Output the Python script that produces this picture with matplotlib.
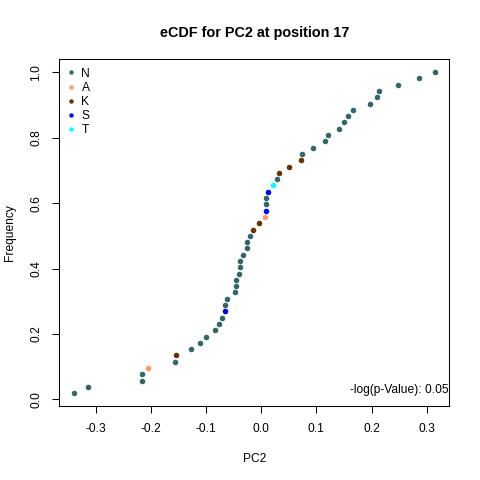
import numpy as np
import matplotlib
matplotlib.use("Agg")
import matplotlib.pyplot as plt

plt.rcParams['font.family'] = ['Liberation Sans', 'DejaVu Sans']
plt.rcParams['axes.unicode_minus'] = False

# PC2 values at position 17, with the residue of each sample
pc2 = [-0.340, -0.315, -0.217, -0.217, -0.206, -0.157, -0.154, -0.127,
       -0.112, -0.0995, -0.083, -0.076, -0.0705, -0.065, -0.065, -0.063,
       -0.047, -0.045, -0.045, -0.040, -0.038, -0.038, -0.033, -0.025,
       -0.025, -0.020, -0.0145, -0.0036, 0.0072, 0.009, 0.0092, 0.0094,
       0.0127, 0.0217, 0.029, 0.0325, 0.0506, 0.0723, 0.0741, 0.094,
       0.1157, 0.121, 0.141, 0.150, 0.157, 0.1664, 0.197, 0.2098,
       0.2134, 0.2477, 0.2857, 0.3147]
residue = ['N', 'N', 'N', 'N', 'A', 'N', 'K', 'N',
           'N', 'N', 'N', 'N', 'N', 'S', 'N', 'N',
           'N', 'N', 'N', 'N', 'N', 'N', 'N', 'N',
           'N', 'N', 'K', 'K', 'A', 'S', 'N', 'N',
           'S', 'T', 'N', 'K', 'K', 'K', 'N', 'N',
           'N', 'N', 'N', 'N', 'N', 'N', 'N', 'N',
           'N', 'N', 'N', 'N']
groups = ['N', 'A', 'K', 'S', 'T']
group_colors = ['#336666', '#FF9966', '#663300', '#0000FF', '#00FFFF']
p_value_text = "-log(p-Value): 0.05"

x = np.array(pc2)
order = np.argsort(x, kind='stable')
x = x[order]
res = np.array(residue)[order]
freq = np.arange(1, len(x) + 1) / len(x)

fig = plt.figure(figsize=(4.8, 4.8), dpi=100)
ax = fig.add_axes([59.3 / 480, 1 - 406 / 480, 390 / 480, 346.7 / 480])

for g, c in zip(groups, group_colors):
    m = res == g
    ax.plot(x[m], freq[m], 'o', color=c, markersize=4, markeredgewidth=0,
            linestyle='none', label=g)

# R-style axis ranges (4% padding)
pad_x = (x.max() - x.min()) * 0.04
pad_y = (freq.max() - freq.min()) * 0.04
ax.set_xlim(x.min() - pad_x, x.max() + pad_x)
ax.set_ylim(freq.min() - pad_y, freq.max() + pad_y)

ax.set_xticks([-0.3, -0.2, -0.1, 0.0, 0.1, 0.2, 0.3])
ax.set_yticks([0.0, 0.2, 0.4, 0.6, 0.8, 1.0])
ax.set_xticklabels(['-0.3', '-0.2', '-0.1', '0.0', '0.1', '0.2', '0.3'])
ax.set_yticklabels(['0.0', '0.2', '0.4', '0.6', '0.8', '1.0'],
                   rotation=90, va='center')
ax.tick_params(direction='out', length=5.2, width=0.75, labelsize=8.64,
               pad=7)
for s in ax.spines.values():
    s.set_linewidth(0.75)

ax.set_xlabel('PC2', fontsize=8.64)
ax.set_ylabel('Frequency', fontsize=8.64)
ax.xaxis.set_label_coords(0.5, (406 - 453) / 346.7)
ax.yaxis.set_label_coords((16 - 59.3) / 390, 0.5)

fig.text(254.3 / 480, 1 - 33 / 480, 'eCDF for PC2 at position 17',
         fontsize=10.4, fontweight='bold', ha='center', va='center')

ax.text(0.998, (406 - 390) / 346.7, p_value_text, transform=ax.transAxes,
        ha='right', va='center', fontsize=8.64)

ax.legend(loc='upper left', frameon=False, fontsize=8.64, handlelength=0.6,
          handletextpad=0.55, labelspacing=0.18, borderaxespad=0.5,
          borderpad=0.2, markerscale=0.8)

fig.savefig('out.png', dpi=100)
